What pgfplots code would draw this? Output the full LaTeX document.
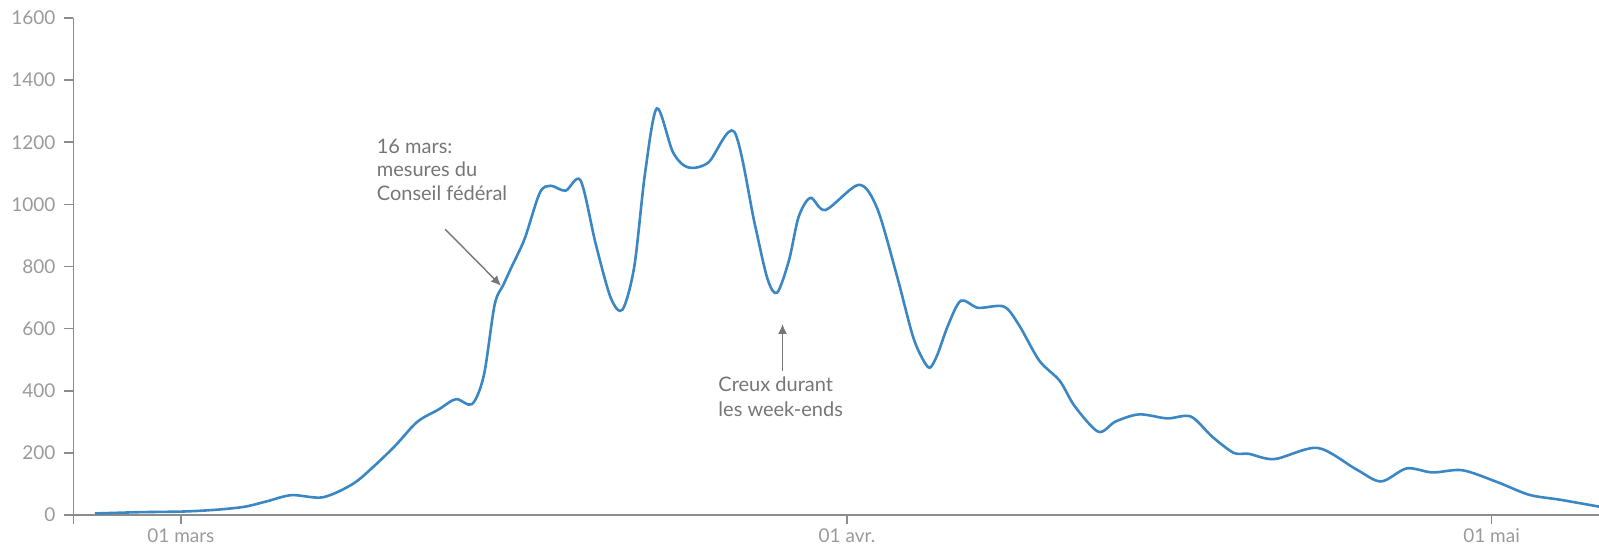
\documentclass[border=0pt]{standalone}
\usepackage{fontspec}
\setmainfont{Lato}
\usepackage{pgfplots}
\pgfplotsset{compat=1.18}
\usetikzlibrary{arrows.meta}

\definecolor{curve}{HTML}{3B87C4}
\definecolor{axisgray}{HTML}{8C8C8C}
\definecolor{ticktext}{HTML}{9A9A9A}
\definecolor{notetext}{HTML}{767676}

\begin{document}
\begin{tikzpicture}
  % page size: 1599x546 px at 0.5pt per px
  \useasboundingbox (-36.75pt,-15.5pt) rectangle (762.75pt,257.5pt);
  \begin{axis}[
      at={(0,0)}, anchor=south west,
      scale only axis,
      width=762.75pt, height=248.5pt,
      xmin=-5, xmax=66,
      ymin=0, ymax=1600,
      axis x line=bottom, axis y line=left,
      axis line style={draw=axisgray, line width=0.8pt, -},
      tick style={draw=axisgray, line width=0.8pt},
      tick align=outside,
      major tick length=4.5pt,
      xtick={0,31,61},
      xticklabels={01 mars, 01 avr., 01 mai},
      extra x ticks={-5},
      extra x tick labels={},
      ytick={0,200,...,1600},
      font=\fontsize{9.5}{11}\selectfont,
      ticklabel style={text=ticktext},
      xticklabel style={yshift=1pt},
      yticklabel style={xshift=-1pt},
      /pgf/number format/assume math mode=true,
      /pgf/number format/1000 sep={},
      clip=true,
    ]
    \addplot[curve, line width=1.3pt, smooth, tension=0.5] coordinates {
      (-4,5) (-3,7) (-2,9) (-1,10) (0,11) (1,14) (2,19) (3,27) (4,44)
      (5.15,64) (6.6,57) (8,100) (9,158) (10,225) (11,300) (12,340)
      (12.8,373) (13.55,357) (14.1,450) (14.6,677) (15,740) (15.4,800)
      (16,890) (16.7,1037) (17.2,1060) (17.9,1044) (18.6,1077) (19.3,874)
      (20.0,700) (20.55,661) (21.1,800) (21.6,1100) (22.15,1309) (22.9,1168)
      (23.6,1119) (24.55,1135) (25.75,1234) (26.7,939) (27.3,760)
      (27.75,716) (28.3,820) (28.75,960)
      (29.3,1021) (30,982) (31.55,1063) (32.4,988) (33.3,776) (34.05,579)
      (34.5,505) (34.85,474) (35.2,515) (35.7,610) (36.3,690) (37.1,667)
      (38.3,671) (39,612)
      (39.95,497) (40.9,432) (41.6,350) (42.7,268) (43.5,301) (44.6,324)
      (45.9,311) (47,317) (48,252) (49,200) (49.7,197) (50.9,180)
      (52.9,216) (54.7,147) (55.85,108) (57.05,150) (58.25,137)
      (59.65,144) (61.3,105) (62.75,65) (64.2,49) (66,27)
    };
    % annotations
    \node[anchor=north west, align=left, text=notetext, inner sep=0pt,
          font=\fontsize{10}{11.8}\selectfont]
      at (axis cs:9.1,1212) {16 mars:\\mesures du\\Conseil fédéral};
    \draw[notetext, line width=0.7pt, -{Latex[length=5pt,width=4.5pt]}]
      (axis cs:12.3,920) -- (axis cs:14.9,738);
    \node[anchor=north west, align=left, text=notetext, inner sep=0pt,
          font=\fontsize{10}{12.5}\selectfont]
      at (axis cs:25.0,445) {Creux durant\\les week-ends};
    \draw[notetext, line width=0.7pt, -{Latex[length=5pt,width=4.5pt]}]
      (axis cs:28.0,465) -- (axis cs:28.0,615);
  \end{axis}
\end{tikzpicture}
\end{document}
